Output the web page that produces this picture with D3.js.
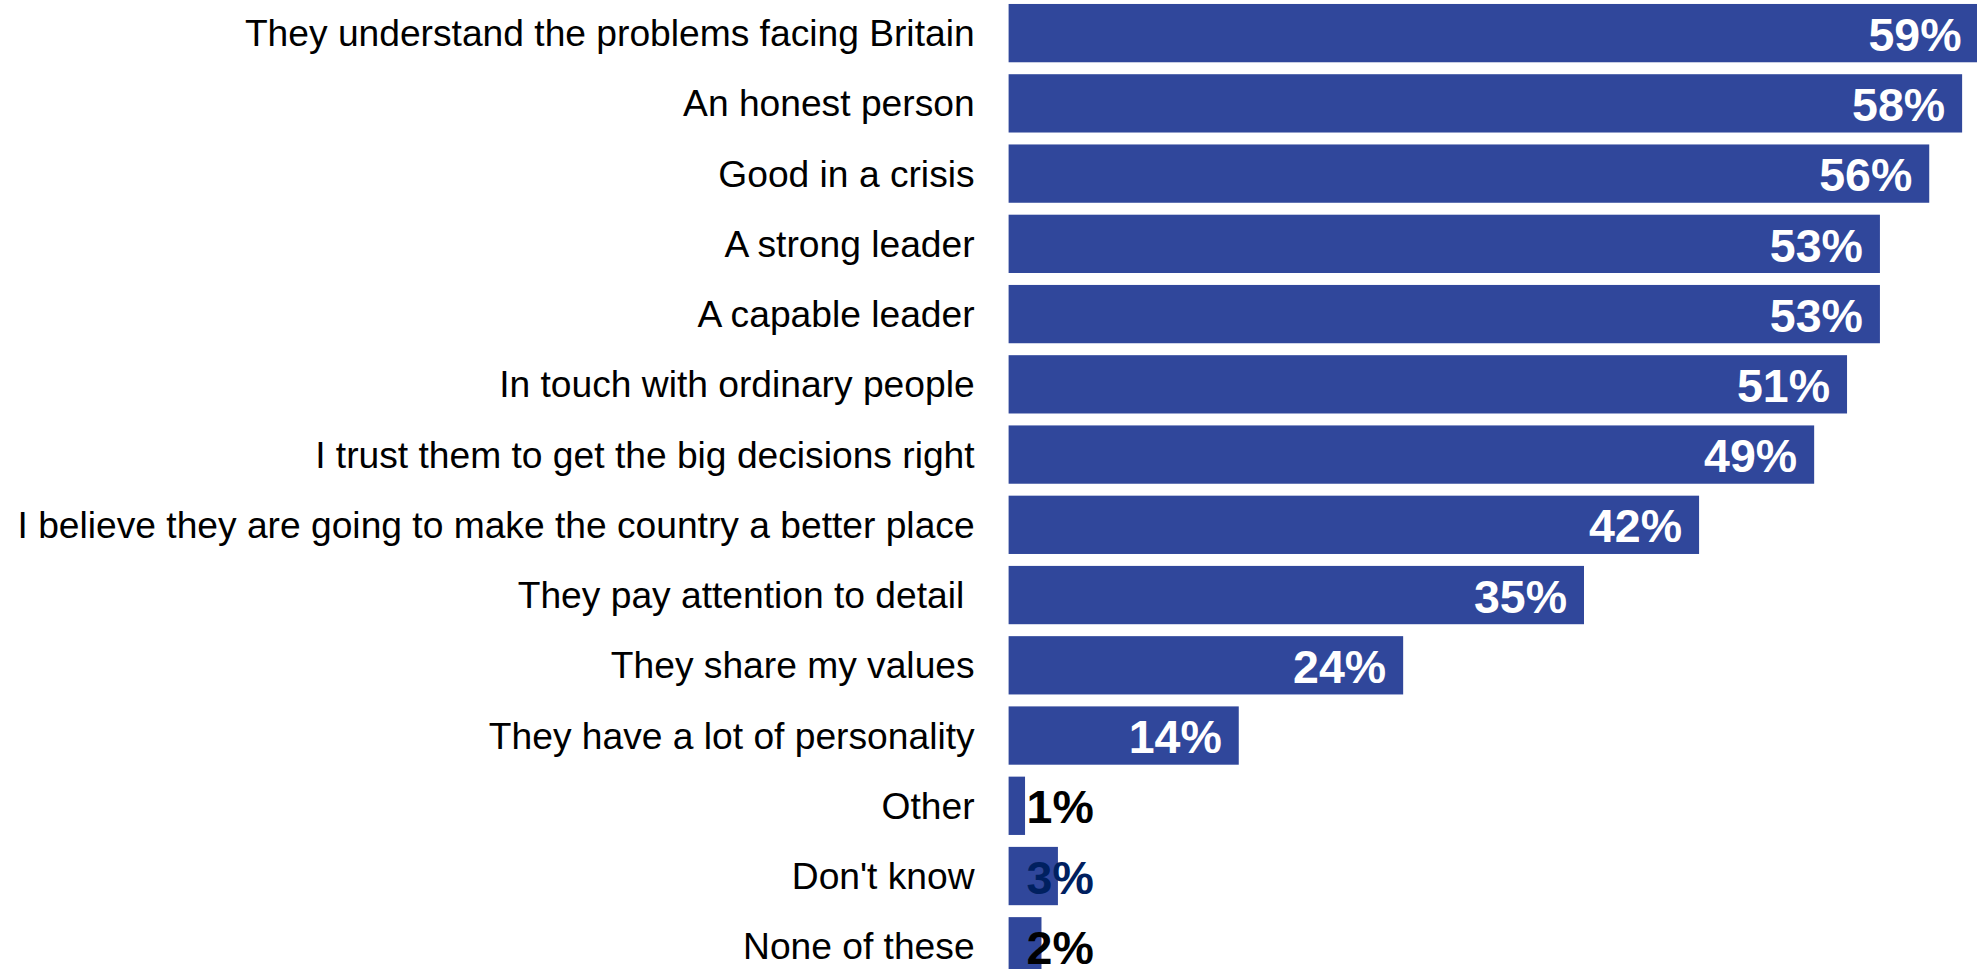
<!DOCTYPE html>
<html>
<head>
<meta charset="utf-8">
<script src="https://cdn.jsdelivr.net/npm/d3@7"></script>
<style>
  body { margin: 0; background: #fff; }
  svg { display: block; }
</style>
</head>
<body>
<script>
var categories = [
  "They understand the problems facing Britain",
  "An honest person",
  "Good in a crisis",
  "A strong leader",
  "A capable leader",
  "In touch with ordinary people",
  "I trust them to get the big decisions right",
  "I believe they are going to make the country a better place",
  "They pay attention to detail ",
  "They share my values",
  "They have a lot of personality",
  "Other",
  "Don't know",
  "None of these"
];
var values = [59, 58, 56, 53, 53, 51, 49, 42, 35, 24, 14, 1, 3, 2];

var width = 1977, height = 969;

var svg = d3.select("body").append("svg")
  .attr("width", width)
  .attr("height", height);

var x = d3.scaleLinear()
  .domain([0, 60])
  .range([1008.6, 1008.6 + 60 * 16.44]);

var y = d3.scaleBand()
  .domain(categories)
  .range([-2, 981.4])
  .paddingInner(0.17)
  .paddingOuter(0.085);

var rows = svg.selectAll("g.row")
  .data(categories)
  .enter().append("g")
  .attr("class", "row");

rows.append("rect")
  .attr("x", x(0))
  .attr("y", function(d) { return y(d); })
  .attr("width", function(d, i) { return x(values[i]) - x(0); })
  .attr("height", y.bandwidth())
  .style("fill", "#30479b");

// category labels, right aligned against the bars
rows.append("text")
  .attr("x", 974.6)
  .attr("y", function(d) { return y(d) + y.bandwidth() / 2; })
  .attr("dy", "0.35em")
  .attr("text-anchor", "end")
  .style("font", "37.2px 'Liberation Sans', Arial, sans-serif")
  .style("white-space", "pre")
  .style("fill", "#000")
  .text(function(d) { return d; });

// value labels: inside the bar end, or just past the axis for tiny bars
rows.append("text")
  .attr("x", function(d, i) { return values[i] < 5 ? x(0) + 18 : x(values[i]) - 17; })
  .attr("y", function(d) { return y(d) + y.bandwidth() / 2; })
  .attr("dy", "0.38em")
  .attr("text-anchor", function(d, i) { return values[i] < 5 ? "start" : "end"; })
  .style("font", "bold 46.5px 'Liberation Sans', Arial, sans-serif")
  .style("fill", function(d, i) {
    if (values[i] >= 5) return "#fff";
    return d === "Don't know" ? "#002060" : "#000";
  })
  .text(function(d, i) { return values[i] + "%"; });
</script>
</body>
</html>
